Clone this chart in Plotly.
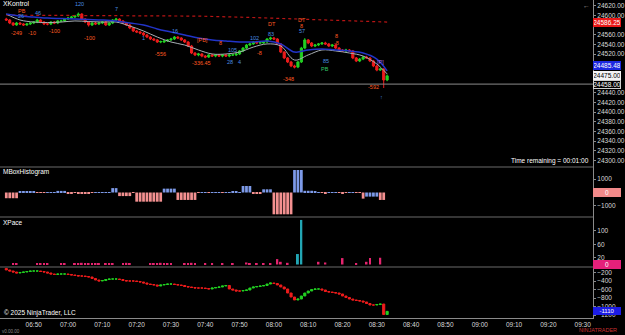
import plotly.graph_objects as go
from plotly.subplots import make_subplots
import pandas as pd
import numpy as np

# ---------------- data ----------------
bar_times = pd.date_range("2025-06-13 06:42", periods=112, freq="1min")

price_open = [
24592.5, 24590.5, 24584.25, 24580.25, 24584.25, 24582.25, 24580.25, 24582.25, 24584.25, 24586.25,
24590.5, 24586.25, 24582.25, 24582.25, 24586.25, 24584.25, 24588.5, 24588.5, 24592.5, 24594.5,
24596.75, 24598.75, 24602.75, 24592.5, 24586.25, 24580.25, 24584.25, 24582.25, 24584.25, 24586.25,
24580.25, 24584.25, 24590.5, 24592.5, 24588.5, 24584.25, 24580.25, 24574.0, 24567.75, 24565.75,
24563.5, 24559.5, 24555.25, 24551.25, 24549.25, 24545.0, 24545.0, 24547.0, 24549.25, 24551.25,
24555.25, 24553.25, 24549.25, 24545.0, 24536.75, 24522.25, 24518.25, 24520.25, 24516.0, 24514.0,
24518.25, 24516.0, 24518.25, 24516.0, 24518.25, 24516.0, 24518.25, 24518.25, 24520.25, 24526.5,
24532.5, 24538.75, 24541.0, 24545.0, 24543.0, 24543.0, 24545.0, 24551.25, 24553.25, 24551.25,
24541.0, 24524.25, 24512.0, 24503.75, 24495.5, 24493.25, 24503.75, 24532.5, 24549.25, 24543.0,
24536.75, 24538.75, 24541.0, 24543.0, 24541.0, 24536.75, 24538.75, 24532.5, 24528.5, 24526.5,
24528.5, 24526.5, 24512.0, 24505.75, 24509.75, 24514.0, 24512.0, 24505.75, 24495.5, 24487.0,
24489.25, 24466.5]
price_close = [
24590.5, 24584.25, 24580.25, 24584.25, 24582.25, 24580.25, 24582.25, 24584.25, 24586.25, 24590.5,
24586.25, 24582.25, 24582.25, 24586.25, 24584.25, 24588.5, 24588.5, 24592.5, 24594.5, 24596.75,
24598.75, 24602.75, 24592.5, 24586.25, 24580.25, 24584.25, 24582.25, 24584.25, 24586.25, 24580.25,
24584.25, 24590.5, 24592.5, 24588.5, 24584.25, 24580.25, 24574.0, 24567.75, 24565.75, 24563.5,
24559.5, 24555.25, 24551.25, 24549.25, 24545.0, 24546.0, 24547.0, 24549.25, 24551.25, 24555.25,
24553.25, 24549.25, 24545.0, 24536.75, 24522.25, 24518.25, 24520.25, 24516.0, 24514.0, 24518.25,
24516.0, 24518.25, 24516.0, 24518.25, 24516.0, 24518.25, 24518.25, 24520.25, 24526.5, 24532.5,
24538.75, 24541.0, 24545.0, 24543.0, 24543.5, 24545.0, 24551.25, 24553.25, 24551.25, 24541.0,
24524.25, 24512.0, 24503.75, 24495.5, 24493.25, 24503.75, 24532.5, 24549.25, 24543.0, 24536.75,
24538.75, 24541.0, 24543.0, 24541.0, 24536.75, 24538.75, 24532.5, 24528.5, 24526.5, 24528.5,
24526.5, 24512.0, 24505.75, 24509.75, 24514.0, 24512.0, 24505.75, 24495.5, 24487.0, 24489.25,
24466.5, 24475.0]
price_high = [
24595, 24592.5, 24586, 24586.5, 24586, 24584, 24584.5, 24586, 24588, 24593,
24592, 24588, 24585, 24588, 24588, 24590.5, 24591, 24594.5, 24597, 24599,
24601, 24606, 24604.5, 24594, 24588, 24586, 24586.5, 24586, 24588, 24588.5,
24586, 24592.5, 24595, 24594, 24590, 24586, 24582, 24576, 24570, 24568,
24565.5, 24561.5, 24557, 24553.5, 24551, 24548, 24549, 24551, 24553.5, 24557.5,
24557, 24555, 24551, 24547, 24539, 24524, 24522.5, 24522, 24518, 24520,
24520.5, 24520, 24520.5, 24520, 24520.5, 24520, 24520.5, 24522, 24528.5, 24534.5,
24541, 24543.5, 24547, 24547.5, 24545, 24547, 24553, 24556, 24555.5, 24553,
24543, 24526, 24514, 24506, 24498, 24506, 24535, 24553, 24551, 24545,
24541, 24543, 24545, 24545.5, 24543, 24541, 24540.5, 24534.5, 24530.5, 24531,
24530.5, 24528.5, 24514, 24512, 24516, 24516.5, 24514, 24508, 24497.5, 24491.5,
24491, 24478]
price_low = [
24588.5, 24582, 24578, 24578.5, 24580, 24578, 24578.5, 24580, 24582, 24584,
24584, 24580, 24579.5, 24580, 24582, 24582, 24586, 24586.5, 24590.5, 24592.5,
24594.5, 24596.5, 24590, 24584, 24577, 24578, 24580, 24580, 24582, 24578,
24578, 24582, 24588.5, 24586, 24582, 24578, 24571.5, 24565.5, 24563.5, 24561,
24557.5, 24553, 24549, 24547, 24543, 24542.5, 24543, 24545, 24547, 24549,
24551, 24547, 24543, 24534.5, 24520, 24516, 24515.5, 24513.5, 24511.5, 24512,
24514, 24513.5, 24514, 24513.5, 24514, 24513.5, 24516, 24516, 24518, 24524,
24530.5, 24536.5, 24539, 24541, 24541, 24541, 24543, 24549, 24549, 24538.5,
24522, 24509.5, 24501.5, 24493, 24490.5, 24491, 24501.5, 24530, 24540.5, 24534.5,
24534.5, 24536.5, 24539, 24539, 24534.5, 24534.5, 24530.5, 24526.5, 24524.5, 24524,
24524.5, 24509.5, 24503.5, 24503.5, 24507.5, 24510, 24503.5, 24493, 24484.5, 24485,
24450, 24464]

# moving-average style lines, sampled every 4 bars
line_bars = [0, 4, 8, 12, 16, 20, 24, 28, 32, 36, 40, 44, 48, 52, 56, 60, 64, 68, 72, 76,
             80, 84, 88, 92, 96, 100, 104, 108, 111]
ema_blue = [24602.75, 24598.75, 24596.75, 24594.5, 24593.5, 24592.5, 24591.5, 24590.5, 24588.5,
            24584.25, 24580.25, 24572.0, 24565.75, 24559.5, 24553.25, 24549.25, 24547.0, 24545.0,
            24545.0, 24547.0, 24541.0, 24524.25, 24528.5, 24530.5, 24528.5, 24526.5, 24522.25,
            24509.75, 24485.48]
sma_grey = [24602.75, 24590.5, 24586.25, 24585.25, 24586.25, 24588.5, 24587.25, 24586.25, 24586.25,
            24578.0, 24567.75, 24555.25, 24545.0, 24538.75, 24528.5, 24520.25, 24520.25, 24524.25,
            24534.5, 24541.0, 24536.75, 24507.75, 24518.25, 24528.5, 24526.5, 24522.25, 24516.0,
            24499.5, 24479.0]
red_line_bars = [0, 28, 56, 70, 84, 98, 111]
red_line = [24600.5, 24599.5, 24598.5, 24596.0, 24593.0, 24590.0, 24586.25]
hline_level = 24458.0

mbox_hist = [
-430, -430, -430, -430, 60, 60, 50, 50, 40, -30,
-30, -20, 10, 10, 10, 120, 120, 120, -60, -60,
-20, -60, -60, -60, -60, -10, 10, 10, 10, 20,
20, 330, 330, -270, -270, -270, -270, -20, -690, -690,
-690, -690, -690, -690, -690, -690, 290, 290, 290, 290,
-560, -560, -560, -560, -560, -560, -20, 10, 10, -10,
10, 30, 30, -20, 10, 30, 40, 40, 10, 490,
490, 490, -100, -100, -60, 240, 240, 240, -1640, -1640,
-1640, -1640, -1640, -1640, 1690, 1690, 1690, 130, 130, 130,
100, 30, -20, -60, 10, 20, 30, -20, -100, -20,
20, 20, -30, -30, -460, -310, -310, -310, -310, -560,
-560, 0]
mbox_side = list("rrrrbbbbbr" "rrbbbbbbrr" "rrrrrrbbbb" "bbbrrrrrrr" "rrrrrrbbbb"
                 "rrrrrrrbbr" "bbbrbbbbbb" "bbrrrbbbrr" "rrrrbbbbbb" "bbrrbbbrrr"
                 "bbrrrbbbbr" "rb")

xpace = [0, 0, 3, 3, 0, 0, 0, 0, 0, 3, 4, 2, 3, 0, 0, 0, 2, 3, 0, 0,
         4, 3, 5, 3, 2, 4, 3, 4, 0, 3, 4, 2, 0, 0, 3, 5, 3, 0, 0, 0,
         0, 0, 4, 3, 3, 5, 2, 3, 3, 0, 0, 0, 4, 3, 5, 4, 0, 0, 2, 0,
         3, 0, 0, 2, 0, 0, 3, 0, 0, 0, 6, 4, 0, 3, 0, 3, 0, 2, 0, 16,
         8, 0, 5, 0, 0, 31, 132, 0, 0, 0, 0, 8, 0, 6, 0, 0, 0, 0, 19, 0,
         0, 0, 4, 0, 0, 8, 19, 0, 0, 20, 0, 0]
xpace_kind = list("pppppppppp" "pppppppppp" "pppppppppp" "pppppppppp" "pppppppppp"
                  "pppppppppp" "pppppppggp" "pppppppppp" "pppppttppp" "pppppppppp"
                  "pppppppppp" "pp")

delta_open = [
-100, -136, -160, -184, -207, -195, -184, -172, -160, -160,
-160, -172, -184, -207, -231, -242, -231, -231, -231, -242,
-254, -266, -278, -278, -290, -301, -336, -372, -395, -384,
-360, -348, -348, -348, -360, -384, -395, -395, -395, -407,
-419, -442, -466, -478, -489, -513, -489, -478, -466, -466,
-478, -489, -501, -525, -536, -548, -560, -560, -560, -572,
-583, -560, -548, -536, -513, -501, -583, -607, -631, -631,
-619, -607, -560, -536, -525, -513, -501, -466, -442, -454,
-489, -536, -583, -678, -772, -842, -819, -748, -678, -631,
-595, -583, -583, -607, -642, -654, -666, -678, -701, -748,
-784, -819, -842, -854, -866, -889, -925, -960, -960, -948,
-937, -1184]
delta_close = [
-136, -160, -184, -207, -195, -184, -172, -160, -160, -160,
-172, -184, -207, -231, -242, -231, -231, -231, -242, -254,
-266, -278, -278, -290, -301, -336, -372, -395, -384, -360,
-348, -348, -348, -360, -384, -395, -395, -395, -407, -419,
-442, -466, -478, -489, -513, -489, -478, -466, -466, -478,
-489, -501, -525, -536, -548, -560, -560, -560, -572, -583,
-560, -548, -536, -513, -501, -583, -607, -631, -631, -619,
-607, -560, -536, -525, -513, -501, -466, -442, -454, -489,
-536, -583, -678, -772, -842, -819, -748, -678, -631, -595,
-583, -583, -607, -642, -654, -666, -678, -701, -748, -784,
-819, -842, -854, -866, -889, -925, -960, -960, -948, -937,
-1184, -1110]

# signal labels on the price panel: (text, colour key, time, price)
signal_labels = [
    ("PB", "o", "06:46:40", 24609.0), ("26", "b", "06:46:14", 24598.7), ("46", "b", "06:51:09", 24605.0),
    ("-249", "o", "06:45:05", 24563.6), ("-10", "o", "06:49:25", 24563.6), ("-100", "o", "06:56:04", 24567.7),
    ("-100", "o", "07:06:11", 24553.3), ("120", "b", "07:03:18", 24623.5), ("7", "b", "07:14:00", 24613.0),
    ("1", "b", "07:22:06", 24553.0), ("-556", "o", "07:27:00", 24520.2), ("16", "b", "07:31:04", 24567.7),
    ("[PB]", "o", "07:39:07", 24549.0), ("-336.45", "o", "07:38:51", 24501.6), ("8", "o", "07:44:19", 24543.0),
    ("105", "b", "07:48:04", 24528.5), ("28", "b", "07:47:12", 24503.7), ("4", "b", "07:50:05", 24503.7),
    ("102", "b", "07:54:27", 24553.3), ("-8", "o", "07:55:54", 24522.3), ("DT", "o", "07:59:24", 24582.2),
    ("83", "b", "07:59:06", 24561.5), ("-348", "o", "08:04:19", 24468.6), ("DT", "o", "08:08:04", 24590.5),
    ("8", "o", "08:08:04", 24578.0), ("57", "b", "08:08:04", 24567.7), ("8", "o", "08:18:10", 24557.4),
    ("-8", "o", "08:18:10", 24543.0), ("85", "b", "08:15:17", 24505.8), ("PB", "g", "08:15:00", 24489.3),
    ("[P]", "p", "08:31:10", 24503.7), ("-592", "o", "08:29:09", 24452.0), ("↑", "b", "08:31:27", 24431.0),
]

price_ticks = [24300, 24320, 24340, 24360, 24380, 24400, 24420, 24440, 24520, 24540, 24560, 24600, 24620]
mbox_ticks = [-1000, 1000]
xpace_ticks = [20, 60, 100]
delta_ticks = [-200, -400, -600, -800, -1000, -1200]

# ---------------- figure ----------------
DAY = "2025-06-13 "
UP, DN = "#22d022", "#ee1c1c"
FONT = "Liberation Sans"
TICKC = "#d8d8d8"

fig = make_subplots(rows=4, cols=1, shared_xaxes=True, vertical_spacing=0)

fig.add_trace(go.Candlestick(
    x=bar_times, open=price_open, high=price_high, low=price_low, close=price_close,
    increasing=dict(line=dict(color=UP, width=1), fillcolor=UP),
    decreasing=dict(line=dict(color=DN, width=1), fillcolor=DN),
    whiskerwidth=0, showlegend=False, hoverinfo="skip"), row=1, col=1)

line_x = bar_times[line_bars]
fig.add_trace(go.Scatter(x=bar_times[red_line_bars], y=red_line, mode="lines",
                         line=dict(color="#b81414", width=1.2, dash="dot"), showlegend=False), row=1, col=1)
fig.add_trace(go.Scatter(x=line_x, y=sma_grey, mode="lines", line=dict(color="#a7aeb4", width=1),
                         line_shape="spline", showlegend=False), row=1, col=1)
fig.add_trace(go.Scatter(x=line_x, y=ema_blue, mode="lines", line=dict(color="#2234c8", width=1.5),
                         line_shape="spline", showlegend=False), row=1, col=1)

hcol = {"b": "#7d9ae8", "r": "#f39090"}
fig.add_trace(go.Bar(x=bar_times, y=mbox_hist, marker=dict(color=[hcol[c] for c in mbox_side], line=dict(width=0)),
                     width=60000 * 0.8, showlegend=False), row=2, col=1)

pcol = {"p": "#e4246e", "g": "#2cc070", "t": "#22a6b4"}
fig.add_trace(go.Bar(x=bar_times, y=xpace, marker=dict(color=[pcol[c] for c in xpace_kind], line=dict(width=0)),
                     width=60000 * 0.55, showlegend=False), row=3, col=1)

fig.add_trace(go.Candlestick(
    x=bar_times, open=delta_open, close=delta_close,
    high=np.maximum(delta_open, delta_close), low=np.minimum(delta_open, delta_close),
    increasing=dict(line=dict(color=UP, width=1), fillcolor=UP),
    decreasing=dict(line=dict(color=DN, width=1), fillcolor=DN),
    whiskerwidth=0, showlegend=False, hoverinfo="skip"), row=4, col=1)

# domains (pixel-based: plot area 318 px tall)
H = 318.0
doms = [(0, 167), (167, 217), (217, 267), (267, 318)]
ranges = [[24286.7, 24631.8], [-1842, 1917], [-7.4, 140.7], [-1266, -66]]
ticks = [price_ticks, mbox_ticks, xpace_ticks, delta_ticks]
fmts = [".2f", "d", "d", "d"]
for k in range(4):
    top, bot = doms[k]
    fig.update_yaxes(row=k + 1, col=1, domain=[(H - bot) / H, (H - top) / H], range=ranges[k],
                     side="right", tickvals=ticks[k], tickformat=fmts[k], showgrid=False, zeroline=False,
                     showline=True, linecolor="#8a8a8a", linewidth=1, ticks="outside", ticklen=2,
                     tickcolor="#8a8a8a", tickfont=dict(family=FONT, size=6.5, color=TICKC), fixedrange=True)

xr = [DAY + "06:40:10", DAY + "09:33:00"]
fig.update_xaxes(range=xr, showgrid=False, zeroline=False, rangeslider_visible=False,
                 showticklabels=False, showline=False)
fig.update_xaxes(row=4, col=1, showticklabels=True, dtick=600000, tick0=DAY + "06:50",
                 tickformat="%H:%M", tickfont=dict(family=FONT, size=6.5, color=TICKC), ticks="",
                 showline=True, linecolor="#8a8a8a", linewidth=1, mirror=False)

# panel separators and the horizontal price line
for py in [167, 217, 267]:
    fig.add_shape(type="line", xref="paper", yref="paper", x0=0, x1=1, y0=(H - py) / H, y1=(H - py) / H,
                  line=dict(color="#6a6a6a", width=1))
fig.add_shape(type="line", xref="paper", yref="y", x0=0, x1=1, y0=hline_level, y1=hline_level,
              line=dict(color="#8c8c8c", width=1))

ann = []
lcol = {"o": "#ff5a22", "b": "#4a8ee0", "g": "#33c46a", "p": "#b070e8"}
for txt, c, t, p in signal_labels:
    ann.append(dict(x=DAY + t, y=p, xref="x", yref="y", text=txt, showarrow=False,
                    font=dict(family=FONT, size=5.5, color=lcol[c])))

def tag(text, yref, y, bg, fg, border=None, yshift=0, size=6.5):
    return dict(xref="paper", x=1, xanchor="left", yref=yref, y=y, yshift=yshift, text=text,
                showarrow=False, bgcolor=bg, bordercolor=border or bg, borderwidth=1, borderpad=0,
                width=26, align="center", font=dict(family=FONT, size=size, color=fg))

ann += [
    tag("24586.25", "y", red_line[-1], "#e81818", "#ffffff"),
    tag("24485.48", "y", ema_blue[-1], "#1c28e0", "#ffffff", yshift=5),
    tag("24475.00", "y", price_close[-1], "#f4f4f4", "#000000"),
    tag("24458.00", "y", hline_level, "#000000", "#ffffff", border="#cfcfcf"),
    tag("0", "y2", 0, "#f28a8a", "#ffffff"),
    tag("0", "y3", 0, "#e4207a", "#ffffff"),
    tag("-1110", "y4", delta_close[-1], "#1c1ce4", "#ffffff", size=6),
]

def txt(text, x, y, color="#ffffff", size=7, xanchor="left", yanchor="middle"):
    return dict(xref="paper", yref="paper", x=x / 598.0, y=(H - y) / H, text=text, showarrow=False,
                xanchor=xanchor, yanchor=yanchor, font=dict(family=FONT, size=size, color=color))

ann += [
    txt("XKontrol", 1, 4, size=6.8),
    txt("MBoxHistogram", 1, 172, size=6.5),
    txt("XPace", 1, 222, size=6.5),
    txt("© 2025 NinjaTrader, LLC", 2, 313, size=6.5),
    txt("Time remaining = 00:01:00", 596, 161, size=6.5, xanchor="right"),
    txt("←", 591, 6, color="#9a9a9a", size=7, xanchor="center"),
    txt("NINJATRADER", 624, 330, color="#c83030", size=5.5, xanchor="right"),
    txt("v0.00.00", 0, 331, color="#8a8a8a", size=4.5),
]
fig.update_layout(annotations=ann)

fig.update_layout(width=625, height=335, margin=dict(l=0, r=27, t=0, b=17),
                  paper_bgcolor="#000000", plot_bgcolor="#000000", bargap=0.2, boxgap=0.12,
                  showlegend=False, font=dict(family=FONT, color=TICKC))

fig.write_html("out.html")
